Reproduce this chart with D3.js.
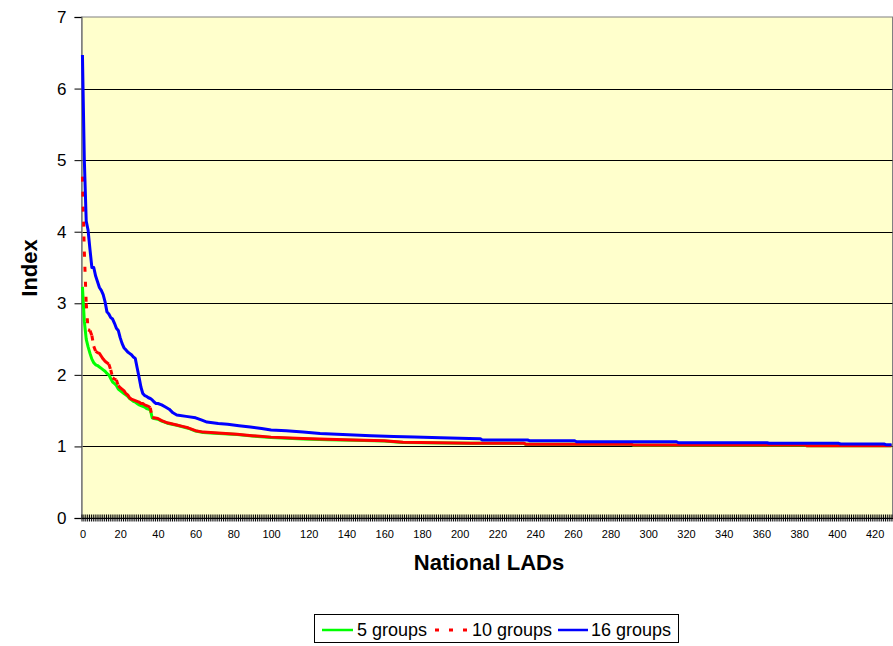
<!DOCTYPE html>
<html><head><meta charset="utf-8">
<script src="https://cdn.jsdelivr.net/npm/d3@7"></script>
<style>
html,body{margin:0;padding:0;background:#fff;}
svg{display:block;font-family:"Liberation Sans",Arial,sans-serif;}
</style></head>
<body>
<svg id="chart" width="893" height="646"></svg>
<script>
// ---------------- data ----------------
const ladCount = 430;                       // categories 0..429
const xTickLabels = [0,20,40,60,80,100,120,140,160,180,200,220,240,260,280,300,320,340,360,380,400,420];
const yTickLabels = [0,1,2,3,4,5,6,7];
const seriesNames = ["5 groups","10 groups","16 groups"];

// 5 groups (green)
const lad5 = [0,1,2,3,4,5,6,7,8,9,10,11,12,13,14,15,16,17,18,19,20,21,22,23,24,25,26,27,28,29,30,31,32,33,34,35,36,37,38,40,42,45,50,53,56,60,64,70,82,90,100,117,130,144,160,170,206,234,235,291,292,383,384,429];
const val5 = [3.23,2.75,2.5,2.39,2.3,2.22,2.17,2.14,2.13,2.11,2.09,2.07,2.05,2.02,2.0,1.95,1.9,1.88,1.85,1.8,1.78,1.76,1.74,1.72,1.7,1.67,1.65,1.63,1.62,1.6,1.58,1.57,1.56,1.55,1.53,1.52,1.51,1.4,1.39,1.38,1.355,1.325,1.295,1.275,1.255,1.215,1.195,1.185,1.165,1.145,1.125,1.105,1.095,1.085,1.075,1.055,1.043,1.043,1.03,1.03,1.018,1.018,1.008,1.008];

// 10 groups (red, dashed)
const lad10 = [0,1,2,3,4,5,6,7,8,9,10,11,12,13,14,15,16,17,18,19,20,21,22,23,24,25,26,27,28,29,30,31,32,33,34,35,36,37,38,40,42,45,50,53,56,60,64,70,82,90,100,117,130,144,160,170,206,234,235,291,292,383,384,429];
const val10 = [4.77,3.72,3.0,2.63,2.62,2.55,2.4,2.33,2.31,2.3,2.26,2.22,2.19,2.17,2.15,2.07,1.96,1.94,1.93,1.85,1.82,1.8,1.78,1.74,1.72,1.68,1.66,1.65,1.64,1.63,1.62,1.6,1.6,1.58,1.57,1.56,1.54,1.4,1.4,1.39,1.36,1.33,1.3,1.28,1.26,1.22,1.2,1.19,1.17,1.15,1.13,1.11,1.1,1.09,1.08,1.06,1.045,1.045,1.032,1.032,1.02,1.02,1.01,1.01];

// 16 groups (blue)
const lad16 = [0,1,2,3,4,5,6,7,8,9,10,11,12,13,14,15,16,17,18,19,20,21,22,23,24,25,26,27,28,29,30,31,32,33,34,35,36,37,38,39,40,42,44,46,48,50,55,60,63,66,72,77,83,89,95,100,108,117,126,135,144,153,165,176,190,205,211,212,236,237,261,262,315,316,363,364,401,402,425,426,429];
const val16 = [6.47,5.0,4.15,4.02,3.75,3.5,3.5,3.38,3.3,3.22,3.18,3.12,3.02,2.88,2.85,2.8,2.78,2.72,2.65,2.62,2.52,2.44,2.38,2.35,2.32,2.3,2.28,2.25,2.23,2.1,1.97,1.83,1.74,1.71,1.7,1.68,1.67,1.65,1.62,1.6,1.6,1.58,1.55,1.52,1.47,1.44,1.42,1.4,1.37,1.34,1.32,1.31,1.29,1.27,1.25,1.23,1.22,1.2,1.18,1.17,1.16,1.15,1.14,1.13,1.12,1.11,1.108,1.09,1.09,1.08,1.08,1.066,1.066,1.052,1.052,1.044,1.044,1.034,1.034,1.025,1.025];

const colors = ["#00FF00","#FF0000","#0000FF"];

// ---------------- layout ----------------
const svg = d3.select("#chart");
const plot = {left:81.5, right:892.5, top:17, bottom:518};

const x = d3.scaleLinear().domain([-0.5, ladCount-0.5]).range([plot.left, plot.right]);
const y = d3.scaleLinear().domain([0,7]).range([plot.bottom, plot.top]);

// plot background
svg.append("rect")
  .attr("x",plot.left).attr("y",plot.top)
  .attr("width",plot.right-plot.left).attr("height",plot.bottom-plot.top)
  .attr("fill","#FFFFCC").attr("stroke","#808080").attr("stroke-width",1);

// gridlines
svg.append("g").selectAll("line").data(yTickLabels.filter(d=>d>0 && d<7)).join("line")
  .attr("x1",plot.left).attr("x2",plot.right)
  .attr("y1",d=>Math.round(y(d))+0.5).attr("y2",d=>Math.round(y(d))+0.5)
  .attr("stroke","#000").attr("stroke-width",1);

// y axis
const yAxis = svg.append("g").attr("transform",`translate(${plot.left},0)`)
  .call(d3.axisLeft(y).tickValues(yTickLabels).tickFormat(d3.format("d")).tickSize(7).tickPadding(8));
yAxis.select(".domain").attr("stroke","#808080").attr("stroke-width",1.5);
yAxis.selectAll(".tick line").attr("stroke","#000");
yAxis.selectAll("text").attr("font-size",17).attr("fill","#000")
  .attr("font-family","'Liberation Sans',Arial,sans-serif");

// x axis minor (category boundary) ticks — cross style
const boundaries = d3.range(ladCount+1).map(i=>i-0.5);
const xMinor = svg.append("g").attr("transform",`translate(0,${plot.bottom})`)
  .call(d3.axisBottom(x).tickValues(boundaries).tickFormat("").tickSize(3.5).tickSizeOuter(0));
xMinor.selectAll(".tick line").attr("y1",-3.5).attr("stroke","#000").attr("stroke-width",1);
xMinor.select(".domain").attr("stroke","#000");

// x axis labels
const xAxis = svg.append("g").attr("transform",`translate(0,${plot.bottom})`)
  .call(d3.axisBottom(x).tickValues(xTickLabels).tickFormat(d3.format("d")).tickSize(0).tickPadding(12));
xAxis.select(".domain").remove();
xAxis.selectAll("text").attr("font-size",11).attr("fill","#000")
  .attr("font-family","'Liberation Sans',Arial,sans-serif");

// axis titles
svg.append("text").attr("transform","translate(37,268) rotate(-90)")
  .attr("text-anchor","middle").attr("font-size",22).attr("font-weight","bold").text("Index");
svg.append("text").attr("x",489).attr("y",570)
  .attr("text-anchor","middle").attr("font-size",22).attr("font-weight","bold").text("National LADs");

// ---------------- series ----------------
const line = d3.line().x(d=>x(d[0])).y(d=>y(d[1]));
const seriesData = [
  d3.zip(lad5, val5),
  d3.zip(lad10, val10),
  d3.zip(lad16, val16)
];
const lines = svg.append("g");

// green
lines.append("path").datum(seriesData[0]).attr("d",line)
  .attr("fill","none").attr("stroke",colors[0]).attr("stroke-width",3).attr("stroke-linejoin","round");

// red: dash pattern restarts on each segment (spreadsheet style); multi-category runs are solid
(function(){
  const pts = seriesData[1];
  let run = [pts[0]];
  const flush = () => {
    if (run.length > 1) lines.append("path").datum(run).attr("d",line)
      .attr("fill","none").attr("stroke",colors[1]).attr("stroke-width",3).attr("stroke-linejoin","round");
  };
  for (let k=1;k<pts.length;k++){
    const a = pts[k-1], b = pts[k];
    const len = Math.hypot(x(b[0])-x(a[0]), y(b[1])-y(a[1]));
    if (b[0]-a[0] === 1 && len > 5) {
      flush(); run = [b];
      lines.append("path").datum([a,b]).attr("d",line)
        .attr("fill","none").attr("stroke",colors[1]).attr("stroke-width",3)
        .attr("stroke-dasharray","5,10");
    } else {
      run.push(b);
    }
  }
  flush();
})();

// blue
lines.append("path").datum(seriesData[2]).attr("d",line)
  .attr("fill","none").attr("stroke",colors[2]).attr("stroke-width",3).attr("stroke-linejoin","round");

// ---------------- legend ----------------
const lg = svg.append("g");
lg.append("rect").attr("x",314.5).attr("y",614.5).attr("width",364).attr("height",28)
  .attr("fill","#fff").attr("stroke","#000").attr("stroke-width",1);
const legendItems = [
  {x1:322,x2:353,tx:357},
  {x1:435,x2:468,tx:472},
  {x1:558,x2:588,tx:591}
];
legendItems.forEach((it,i)=>{
  lg.append("line").attr("x1",it.x1).attr("x2",it.x2).attr("y1",630).attr("y2",630)
    .attr("stroke",colors[i]).attr("stroke-width",i===1?3:2.5)
    .attr("stroke-dasharray",i===1?"4,10":null);
  lg.append("text").attr("x",it.tx).attr("y",636).attr("font-size",18).attr("fill","#000")
    .text(seriesNames[i]);
});
</script>
</body></html>
